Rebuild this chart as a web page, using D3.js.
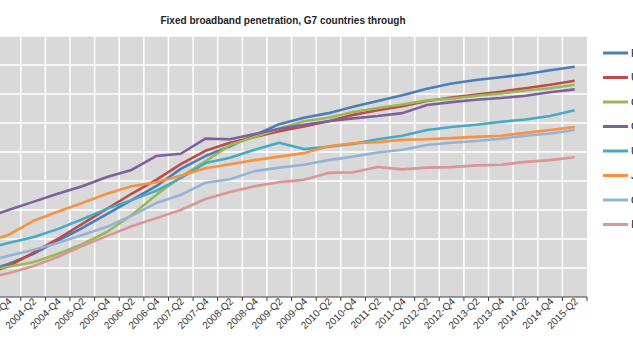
<!DOCTYPE html>
<html>
<head>
<meta charset="utf-8">
<script src="https://cdn.jsdelivr.net/npm/d3@7"></script>
<style>
    body { margin: 0; background: #fff; }
    svg { display: block; font-family: "Liberation Sans", Arial, sans-serif; }
</style>
</head>
<body>
<div id="chart"></div>
<script>
// Các quý (mỗi nửa năm)
const categories = ["2003-Q2", "2003-Q4", "2004-Q2", "2004-Q4", "2005-Q2", "2005-Q4", "2006-Q2", "2006-Q4",
    "2007-Q2", "2007-Q4", "2008-Q2", "2008-Q4", "2009-Q2", "2009-Q4", "2010-Q2", "2010-Q4",
    "2011-Q2", "2011-Q4", "2012-Q2", "2012-Q4", "2013-Q2", "2013-Q4", "2014-Q2", "2014-Q4", "2015-Q2"];

const seriesNames = ["France", "United Kingdom", "Germany", "Canada", "United States", "Japan", "OECD", "Italy"];
const seriesColors = ["#4A7EBB", "#BE4B48", "#98B954", "#7D60A0", "#46AAC5", "#F69240", "#95B3D7", "#D99694"];

const france  = [4.3, 5.7, 7.4, 9.7, 11.9, 14.3, 16.7, 19.1, 22.1, 24.3, 26.0, 27.9, 29.8, 30.9, 31.7, 32.8, 33.8, 34.8, 35.9, 36.8, 37.4, 37.9, 38.4, 39.1, 39.7];
const uk      = [3.9, 5.3, 7.6, 10.0, 12.6, 15.2, 17.8, 20.2, 22.9, 25.2, 26.6, 27.6, 28.6, 29.4, 30.3, 31.4, 32.2, 32.9, 33.8, 34.4, 34.9, 35.4, 36.0, 36.6, 37.3];
const germany = [4.5, 5.2, 6.0, 7.4, 9.1, 11.2, 14.1, 17.6, 20.7, 23.4, 26.2, 27.6, 29.0, 30.3, 30.9, 31.9, 32.6, 33.2, 33.9, 34.2, 34.7, 35.1, 35.6, 36.0, 36.6];
const canada  = [13.6, 15.0, 16.4, 17.8, 19.1, 20.7, 21.9, 24.3, 24.7, 27.3, 27.2, 28.1, 29.0, 29.7, 30.3, 30.8, 31.2, 31.7, 33.1, 33.6, 34.0, 34.3, 34.7, 35.3, 35.8];
const us      = [8.3, 9.3, 10.3, 11.7, 13.4, 15.2, 16.7, 18.3, 20.5, 23.1, 24.0, 25.4, 26.6, 25.5, 25.9, 26.4, 27.2, 27.8, 28.8, 29.3, 29.7, 30.2, 30.6, 31.2, 32.2];
const japan   = [9.3, 10.7, 13.1, 14.7, 16.2, 17.8, 19.1, 19.8, 20.9, 22.2, 22.9, 23.6, 24.2, 24.8, 26.0, 26.5, 26.7, 27.1, 27.2, 27.4, 27.6, 27.8, 28.3, 28.8, 29.3];
const oecd    = [6.0, 7.1, 8.1, 9.3, 10.7, 12.1, 14.0, 16.2, 17.6, 19.7, 20.3, 21.7, 22.3, 22.8, 23.6, 24.2, 24.9, 25.4, 26.2, 26.6, 26.9, 27.3, 27.8, 28.2, 28.8];
const italy   = [3.1, 4.1, 5.3, 6.9, 8.8, 10.5, 12.2, 13.6, 15.0, 16.9, 18.1, 19.1, 19.8, 20.2, 21.4, 21.5, 22.4, 22.0, 22.3, 22.4, 22.7, 22.8, 23.3, 23.6, 24.1];

const seriesValues = [france, uk, germany, canada, us, japan, oecd, italy];
const yTicks = [0, 5, 10, 15, 20, 25, 30, 35, 40, 45];

const title = "Fixed broadband penetration, G7 countries through";

// Kích thước
const width = 633, height = 350;
const plot = { left: -28.5, right: 587, top: 36, bottom: 297 };

const svg = d3.select("#chart")
    .append("svg")
    .attr("width", width)
    .attr("height", height);

// Thang đo
const x = d3.scaleBand()
    .domain(categories)
    .range([plot.left, plot.right])
    .padding(0);

const y = d3.scaleLinear()
    .domain([0, 45])
    .range([plot.bottom, plot.top]);

// Nền xám
svg.append("rect")
    .attr("x", plot.left)
    .attr("y", plot.top)
    .attr("width", plot.right - plot.left)
    .attr("height", plot.bottom - plot.top)
    .attr("fill", "#D9D9D9");

// Lưới ngang
svg.append("g")
    .selectAll("line")
    .data(yTicks.slice(1))
    .enter()
    .append("line")
    .attr("x1", plot.left)
    .attr("x2", plot.right)
    .attr("y1", d => y(d))
    .attr("y2", d => y(d))
    .attr("stroke", "#fff")
    .attr("stroke-width", 1.5);

// Lưới dọc (ranh giới giữa các nhóm)
const bounds = categories.map(c => x(c)).concat([plot.right]);
svg.append("g")
    .selectAll("line")
    .data(bounds.slice(1, -1))
    .enter()
    .append("line")
    .attr("x1", d => d)
    .attr("x2", d => d)
    .attr("y1", plot.top)
    .attr("y2", plot.bottom)
    .attr("stroke", "#fff")
    .attr("stroke-width", 1.5);

// Đường dữ liệu
const line = d3.line()
    .x((d, i) => x(categories[i]) + x.bandwidth() / 2)
    .y(d => y(d));

svg.append("g")
    .selectAll("path")
    .data(seriesValues)
    .enter()
    .append("path")
    .attr("d", d => line(d))
    .attr("fill", "none")
    .attr("stroke", (d, i) => seriesColors[i])
    .attr("stroke-width", 2.6)
    .attr("stroke-linejoin", "round");

// Trục X
svg.append("line")
    .attr("x1", plot.left)
    .attr("x2", plot.right)
    .attr("y1", plot.bottom)
    .attr("y2", plot.bottom)
    .attr("stroke", "#404040")
    .attr("stroke-width", 1);

svg.append("g")
    .selectAll("line")
    .data(bounds)
    .enter()
    .append("line")
    .attr("x1", d => d)
    .attr("x2", d => d)
    .attr("y1", plot.bottom)
    .attr("y2", plot.bottom + 4)
    .attr("stroke", "#404040");

svg.append("g")
    .selectAll("text")
    .data(categories)
    .enter()
    .append("text")
    .attr("transform", d => `translate(${x(d) + x.bandwidth() / 2 + 4},${plot.bottom + 5}) rotate(-45)`)
    .attr("text-anchor", "end")
    .attr("font-size", "10px")
    .attr("fill", "#333")
    .text(d => d);

// Tiêu đề
svg.append("text")
    .attr("x", 283)
    .attr("y", 24)
    .attr("text-anchor", "middle")
    .attr("font-size", "10px")
    .attr("font-weight", "bold")
    .attr("fill", "#222")
    .text(title);

// Chú giải
const legend = svg.append("g")
    .selectAll("g")
    .data(seriesNames)
    .enter()
    .append("g")
    .attr("transform", (d, i) => `translate(603,${53 + i * 24.5})`);

legend.append("line")
    .attr("x1", 0)
    .attr("x2", 25)
    .attr("stroke", (d, i) => seriesColors[i])
    .attr("stroke-width", 3);

legend.append("text")
    .attr("x", 28)
    .attr("dy", "0.35em")
    .attr("font-size", "11px")
    .attr("fill", "#222")
    .text(d => d);
</script>
</body>
</html>
